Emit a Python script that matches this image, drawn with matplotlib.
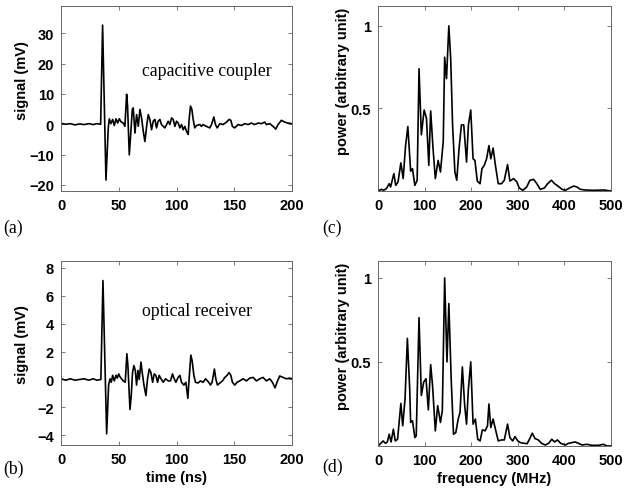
import matplotlib
matplotlib.use("Agg")
import matplotlib.pyplot as plt

# ---- data ----
t_a = [0, 4, 8, 12, 16, 20, 24, 28, 31, 34.3, 36, 38.9, 40.9, 41.8, 43.2, 44.7, 46.1, 47.6, 49, 50.4,
       52, 53.9, 55.3, 56.8, 57.6, 59.1, 60.2, 61.7, 62.5, 64, 65.4, 66.9, 68.3, 69.7, 71.2, 72.6, 74.1,
       75.5, 76.9, 78.4, 79.8, 81.3, 82.7, 84.1, 85.6, 87, 88.5, 89.9, 91.4, 92.8, 94.2, 95.7, 97.1,
       98.6, 100, 101.4, 102.9, 104.3, 105.8, 107.2, 108.6, 110.1, 110.9, 112.1, 113.3, 114.4, 115.8,
       117.3, 120.2, 121.6, 123, 125.9, 128.8, 130.3, 132.3, 133.7, 135.2, 137.5, 140.3, 143.2, 145.5,
       147, 148.4, 150.4, 153.3, 156.2, 159.1, 162, 164.8, 167.7, 170.6, 173.5, 176.4, 177.8, 180.7,
       183.6, 185.9, 187.9, 190.8, 193.7, 196.5, 200]
v_a = [0.3, 0.0, 0.2, -0.2, 0.1, -0.1, 0.2, -0.1, 0.2, 0.0, 32.7, -18.4, -1.2, 1.8, 0.2, 1.6, -0.4, 1.8, 0.4, 1.8,
       0.8, 0.4, -0.7, 9.9, 6.0, -10.1, -4.0, 4.9, 5.4, -2.9, 3.2, -0.7, 4.9, 2.1, -2.3, -5.7, -0.7,
       3.2, 1.6, -1.8, 1.0, 1.6, -1.2, 1.0, 1.6, -0.1, -0.7, -1.2, -0.1, 1.0, -0.1, 2.1, 1.6,
       -0.7, 1.0, 0.4, -1.2, -0.1, -1.8, -0.7, -2.3, -3.4, 1.6, 6.0, 4.9, 1.6, -1.2,
       -0.4, -0.1, -0.7, -0.1, -0.7, -1.2, -0.1, 2.4, -0.1, -1.2, 0.2, -0.1, 0.7, 1.6,
       1.3, -0.7, -1.2, -0.1, -0.4, 0.2, -0.1, 0.4, -0.1, 0.4, 0.2, 0.7, -0.1, 0.2,
       -0.7, -1.6, -0.1, 1.3, 0.7, 0.4, 0.2]

t_b = [0, 4, 8, 12, 16, 20, 24, 28, 31, 34.5, 36.3, 39.5, 41.2, 42.4, 43.5, 44.7, 46.1, 47.6, 48.7, 49.9,
       51, 52.4, 53.9, 55.6, 57, 57.9, 59.7, 60.8, 61.9, 63.1, 64.3, 65.4, 66.6, 67.7, 69.2, 70.3,
       71.8, 73.5, 74.9, 76.4, 77.8, 79.3, 80.7, 82.1, 83.6, 85, 86.5, 88.5, 90.5, 92.8, 94.8, 96.5,
       98, 99.4, 101.4, 102.9, 104.3, 106.3, 108.1, 109.8, 110.9, 112.4, 113.5, 115, 116.4, 118.7,
       120.7, 123, 125.1, 127.4, 129.4, 130.8, 132.8, 134, 135.4, 137.5, 139.8, 141.8, 143.8, 145.5,
       147, 148.4, 150.4, 152.4, 154.8, 157.6, 160.5, 163.4, 166.3, 169.2, 172, 174.9, 177.8, 180.7,
       183, 185.3, 187, 189.3, 192.2, 195.1, 198, 200]
v_b = [0.05, -0.05, 0.05, -0.05, 0.0, 0.05, -0.05, 0.05, -0.05, 0.0, 7.1, -3.9, -0.4, 0.05, -0.2, 0.3, -0.1, 0.3, 0.1, 0.4,
       0.2, 0.05, -0.1, -0.2, 1.85, 1.0, -2.15, -1.15, 0.5, 1.0, 0.65, -0.4, 0.65, 0.0, 1.25, 0.5,
       -0.4, -1.15, 0.05, 0.75, 0.5, -0.2, 0.4, 0.3, -0.2, 0.3, 0.05, -0.2, 0.05, -0.1, -0.1, 0.4,
       0.05, -0.2, 0.15, 0.3, -0.2, -0.4, -0.2, -1.35, 0.05, 1.75, 1.35, 0.3, -0.2, -0.25,
       -0.1, -0.2, 0.05, -0.15, -0.4, -0.2, 0.75, 0.05, -0.4, -0.25, -0.1, 0.15, 0.3, 0.5,
       0.3, -0.2, -0.4, -0.2, -0.1, 0.05, -0.1, 0.1, 0.15, -0.1, 0.05, 0.15, -0.1, 0.05,
       -0.2, -0.6, -0.2, 0.25, 0.15, 0.05, 0.1, 0.05]

f_c = [0, 7, 12, 18, 24, 27, 34, 38, 43, 49, 54, 59, 64, 70, 74, 79, 84, 88, 93, 99, 104, 109, 113,
       118, 123, 129, 134, 140, 143, 147, 152, 156, 160, 165, 169, 174, 179, 184, 190, 194, 199, 204,
       208, 213, 219, 223, 228, 233, 238, 242, 247, 252, 258, 265, 271, 278, 283, 291, 298, 303, 311,
       319, 326, 334, 341, 348, 357, 364, 372, 379, 386, 395, 402, 411, 420, 427, 434, 445, 463, 484, 500]
p_c = [0.0, 0.01, 0.004, 0.014, 0.044, 0.024, 0.105, 0.034, 0.055, 0.17, 0.075, 0.27, 0.39, 0.12, 0.135,
       0.034, 0.065, 0.74, 0.34, 0.49, 0.44, 0.155, 0.485, 0.26, 0.075, 0.185, 0.115, 0.3, 0.81, 0.68,
       1.0, 0.8, 0.4, 0.115, 0.065, 0.26, 0.4, 0.4, 0.175, 0.4, 0.49, 0.195, 0.185, 0.06, 0.044, 0.135,
       0.155, 0.195, 0.275, 0.195, 0.26, 0.155, 0.044, 0.044, 0.065, 0.16, 0.06, 0.075, 0.055, 0.018,
       0.004, 0.024, 0.065, 0.07, 0.044, 0.01, 0.018, 0.044, 0.065, 0.044, 0.03, 0.01, 0.004, 0.018,
       0.03, 0.024, 0.01, 0.006, 0.004, 0.006, 0.0]

f_d = [0, 6, 11, 16, 20, 24, 28, 33, 37, 42, 49, 53, 58, 63, 68, 70, 74, 79, 82, 88, 93, 98, 103, 108,
       113, 117, 123, 128, 134, 138, 143, 148, 152, 157, 162, 167, 172, 176, 181, 186, 190, 194, 199,
       204, 209, 214, 219, 224, 230, 235, 238, 242, 247, 252, 258, 265, 271, 278, 283, 289, 294, 300,
       306, 313, 320, 325, 331, 337, 344, 351, 359, 366, 373, 379, 385, 392, 402, 409, 416, 423, 430,
       438, 448, 459, 473, 484, 491, 500]
p_d = [0.0, 0.016, 0.03, 0.016, 0.024, 0.07, 0.024, 0.1, 0.03, 0.04, 0.253, 0.12, 0.28, 0.64, 0.34, 0.14,
       0.15, 0.05, 0.06, 0.763, 0.3, 0.38, 0.4, 0.215, 0.484, 0.36, 0.09, 0.24, 0.14, 0.21, 1.0, 0.5,
       0.847, 0.4, 0.07, 0.08, 0.16, 0.2, 0.47, 0.24, 0.13, 0.34, 0.5, 0.13, 0.16, 0.04, 0.03, 0.096,
       0.09, 0.12, 0.25, 0.11, 0.16, 0.1, 0.03, 0.036, 0.036, 0.13, 0.05, 0.03, 0.056, 0.03, 0.02,
       0.016, 0.014, 0.04, 0.076, 0.044, 0.036, 0.016, 0.006, 0.016, 0.04, 0.024, 0.036, 0.016, 0.006,
       0.016, 0.02, 0.024, 0.016, 0.006, 0.01, 0.004, 0.004, 0.01, 0.0, 0.0]

time_ticks = [0, 50, 100, 150, 200]
freq_ticks = [0, 100, 200, 300, 400, 500]
sig_a_ticks = [-20, -10, 0, 10, 20, 30]
sig_b_ticks = [-4, -2, 0, 2, 4, 6, 8]
pow_ticks = [0.5, 1]
pow_tick_labels = ["0.5", "1"]

# ---- figure ----
plt.rcParams['font.family'] = ['Liberation Sans', 'DejaVu Sans']
plt.rcParams['font.weight'] = 'bold'
plt.rcParams['axes.labelweight'] = 'bold'
fig = plt.figure(figsize=(6.35, 4.89), dpi=100)

ax_a = fig.add_axes([0.0961, 0.6074, 0.3638, 0.3783])
ax_c = fig.add_axes([0.5953, 0.6074, 0.3669, 0.3783])
ax_b = fig.add_axes([0.0961, 0.0879, 0.3638, 0.3763])
ax_d = fig.add_axes([0.5953, 0.0859, 0.3669, 0.3783])

TICK_FS = 10.5
LAB_FS = 10.5
serif = ['Liberation Serif', 'DejaVu Serif']

def style(ax):
    for s in ax.spines.values():
        s.set_color('#666666')
        s.set_linewidth(0.7)
    ax.tick_params(direction='in', top=True, right=True, length=3, width=0.6,
                   color='#666666', labelsize=TICK_FS, pad=5)

ax_a.plot(t_a, v_a, color='black', lw=1.2)
ax_a.set_xlim(0, 200); ax_a.set_ylim(-22, 39)
ax_a.set_xticks(time_ticks); ax_a.set_yticks(sig_a_ticks)
ax_a.set_ylabel('signal (mV)', fontsize=LAB_FS)
ax_a.yaxis.set_label_coords(-0.14, 0.6)
ax_a.text(126, 17.7, 'capacitive coupler', family=serif, fontsize=12.8, weight='normal',
          ha='center', va='center')
style(ax_a)

ax_b.plot(t_b, v_b, color='black', lw=1.2)
ax_b.set_xlim(0, 200); ax_b.set_ylim(-4.7, 8.5)
ax_b.set_xticks(time_ticks); ax_b.set_yticks(sig_b_ticks)
ax_b.set_ylabel('signal (mV)', fontsize=LAB_FS)
ax_b.yaxis.set_label_coords(-0.14, 0.55)
ax_b.set_xlabel('time (ns)', fontsize=LAB_FS, labelpad=3)
ax_b.text(118, 4.94, 'optical receiver', family=serif, fontsize=12.8, weight='normal',
          ha='center', va='center')
style(ax_b)

ax_c.plot(f_c, p_c, color='black', lw=1.2)
ax_c.set_xlim(0, 500); ax_c.set_ylim(0, 1.12)
ax_c.set_xticks(freq_ticks); ax_c.set_yticks(pow_ticks); ax_c.set_yticklabels(pow_tick_labels)
ax_c.set_ylabel('power (arbitrary unit)', fontsize=LAB_FS)
ax_c.yaxis.set_label_coords(-0.12, 0.6)
style(ax_c)

ax_d.plot(f_d, p_d, color='black', lw=1.2)
ax_d.set_xlim(0, 500); ax_d.set_ylim(0, 1.1)
ax_d.set_xticks(freq_ticks); ax_d.set_yticks(pow_ticks); ax_d.set_yticklabels(pow_tick_labels)
ax_d.set_ylabel('power (arbitrary unit)', fontsize=LAB_FS)
ax_d.yaxis.set_label_coords(-0.12, 0.6)
ax_d.set_xlabel('frequency (MHz)', fontsize=LAB_FS, labelpad=3)
style(ax_d)

for lab, x, y in [('(a)', 0.005, 0.534), ('(c)', 0.507, 0.534), ('(b)', 0.005, 0.041), ('(d)', 0.507, 0.045)]:
    fig.text(x, y, lab, family=serif, fontsize=12.8, weight='normal', ha='left', va='center')

fig.savefig('out.png', dpi=100)
